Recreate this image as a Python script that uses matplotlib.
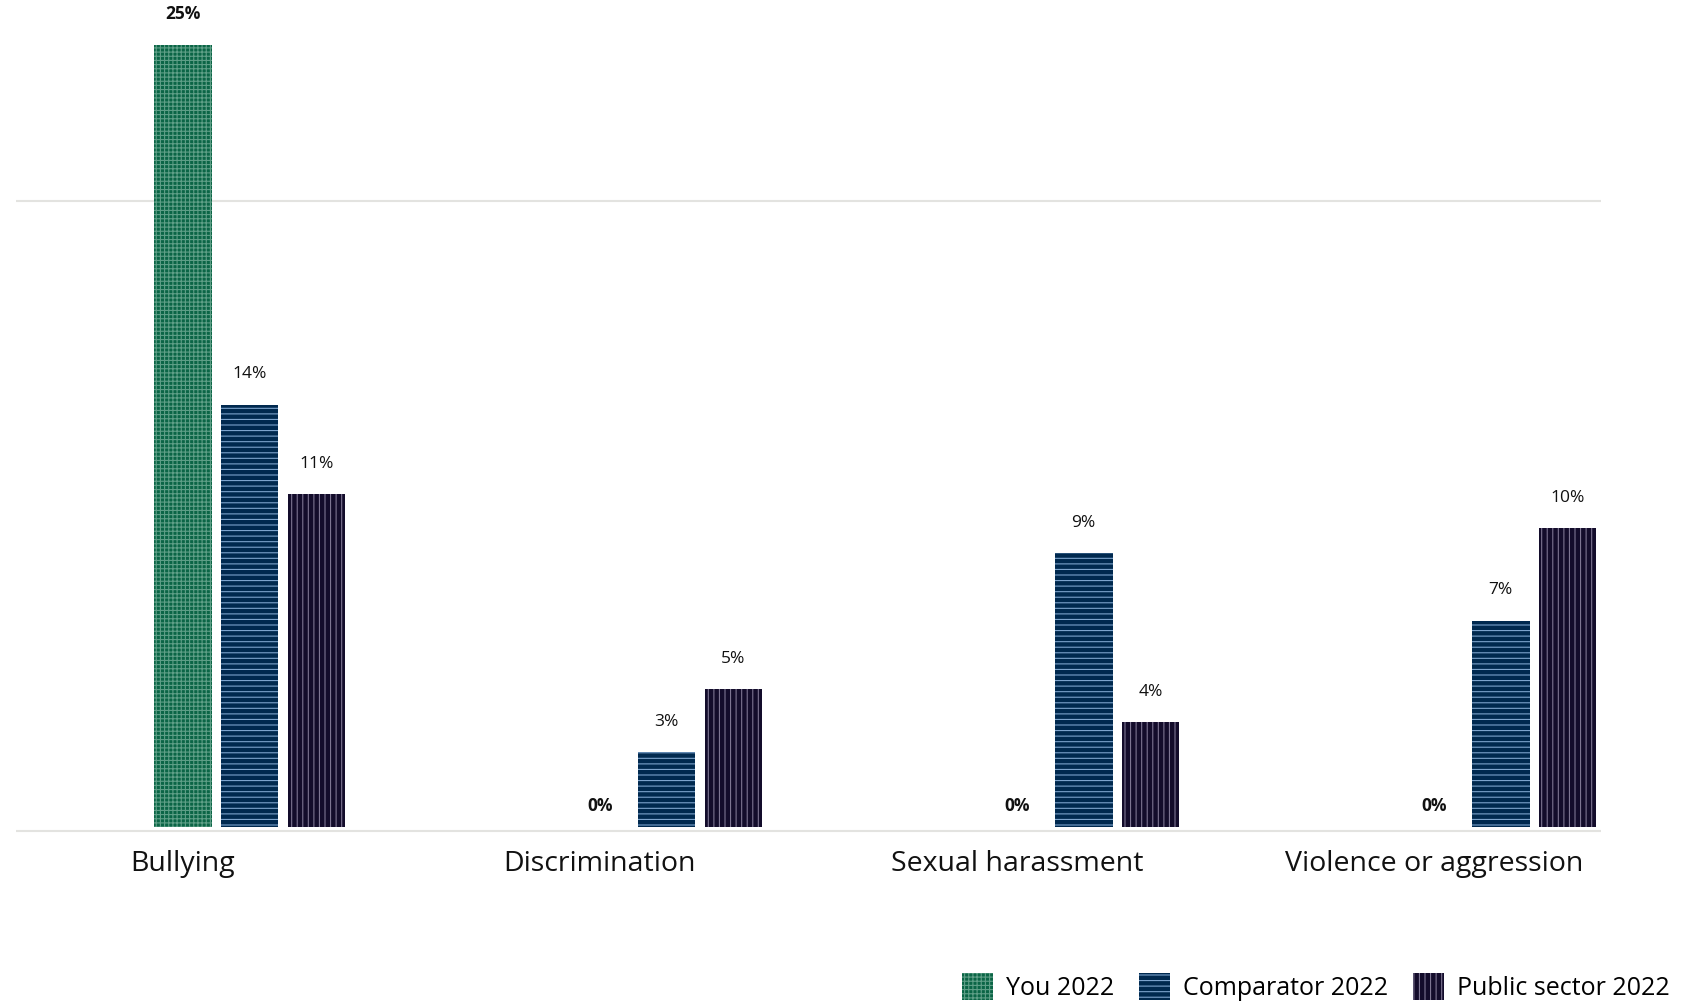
import matplotlib
matplotlib.use("Agg")
import matplotlib.pyplot as plt
import numpy as np

plt.rcParams['font.family'] = ['Open Sans', 'DejaVu Sans']
plt.rcParams['hatch.linewidth'] = 0.8

categories = ['Bullying', 'Discrimination', 'Sexual harassment', 'Violence or aggression']
# bar heights (labels are the rounded figures shown)
you_2022 = [25, 0, 0, 0]
comparator_2022 = [13.5, 2.4, 8.75, 6.6]
public_2022 = [10.65, 4.4, 3.35, 9.55]
you_labels = ['25%', '0%', '0%', '0%']
comparator_labels = ['14%', '3%', '9%', '7%']
public_labels = ['11%', '5%', '4%', '10%']

series = [
    ('You 2022', you_2022, you_labels, '#0b6546', '#5f9f87', '++++', 'bold'),
    ('Comparator 2022', comparator_2022, comparator_labels, '#00294f', '#7ca3cc', '---', 'normal'),
    ('Public sector 2022', public_2022, public_labels, '#130c2b', '#7d7592', '|||', 'normal'),
]

fig = plt.figure(figsize=(16.93, 10.02), dpi=100)
ax = fig.add_axes([0.0095, 0.159, 0.9361, 0.843])

x = np.arange(len(categories))
step = 0.16
width = 0.138

for i, (name, vals, labs, face, hcol, hatch, weight) in enumerate(series):
    bars = ax.bar(x + i * step, vals, width=width, color=face, edgecolor=hcol,
                  hatch=hatch, linewidth=0, label=name, zorder=3)
    for b, v, lab in zip(bars, vals, labs):
        ax.annotate(lab, (b.get_x() + b.get_width() / 2, v),
                    xytext=(0, 16 if v > 0 else 9), textcoords='offset points',
                    ha='center', va='bottom', fontsize=12.5, fontweight=weight,
                    color='#111111')

# light grid lines
ax.axhline(20, color='#e3e3e0', lw=1.5, zorder=1)
ax.axhline(-0.13, color='#e3e3e0', lw=1.5, zorder=1)

ax.set_xlim(-0.4, 3.4)
ax.set_ylim(-0.5, 26.5)
ax.set_xticks(x)
ax.set_xticklabels(categories, fontsize=20.5, color='#111111')
ax.tick_params(axis='x', length=0, pad=5)
ax.set_yticks([])
for s in ax.spines.values():
    s.set_visible(False)

fig.legend(loc='center right', bbox_to_anchor=(0.986, 0.015), ncol=3,
           frameon=False, fontsize=18, handlelength=1.25, handleheight=1.25,
           handletextpad=0.5, columnspacing=1.0, borderpad=0, borderaxespad=0)

plt.savefig('out.png', dpi=100)
